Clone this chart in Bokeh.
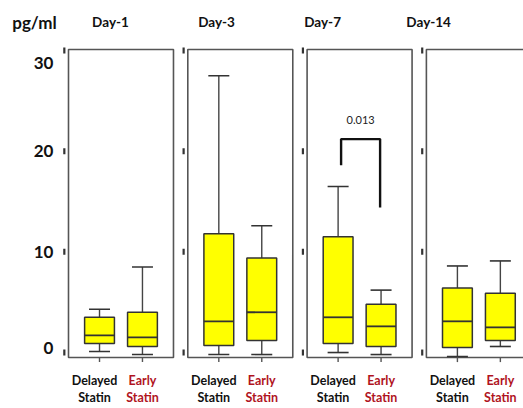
import numpy as np
from bokeh.plotting import figure
from bokeh.models import Range1d
from bokeh.core.properties import value
from bokeh.embed import file_html
from bokeh.resources import INLINE

# ---- data -------------------------------------------------------------
days = ["Day-1", "Day-3", "Day-7", "Day-14"]
group_line1 = ["Delayed", "Early"]
group_line2 = ["Statin", "Statin"]
group_colors = ["#111111", "#B0141E"]

delayed_low = [0.1, -0.2, 0.0, -0.4]
delayed_q1 = [0.9, 0.7, 0.9, 0.5]
delayed_med = [1.7, 3.1, 3.5, 3.1]
delayed_q3 = [3.5, 11.8, 11.5, 6.4]
delayed_high = [4.3, 27.5, 16.5, 8.6]

early_low = [-0.2, -0.2, -0.2, 0.6]
early_q1 = [0.6, 1.2, 0.6, 1.2]
early_med = [1.5, 4.0, 2.6, 2.5]
early_q3 = [4.0, 9.4, 4.8, 5.9]
early_high = [8.5, 12.6, 6.2, 9.1]

y_ticks = [0, 10, 20, 30]
y_tick_labels = ["0", "10", "20", "30"]
unit_label = "pg/ml"

p_value_text = "0.013"
p_value_bracket = [21.2, 18.6, 14.4]   # top, left leg end, right leg end

# ---- layout helpers (positions / styles) --------------------------------
panel_w = 0.88
offsets = [0.26, 0.62]
box_w = 0.25
cap_w = 0.176
y_bottom, y_top = -0.5, 30.1
FONT = value("Lato")

p = figure(width=523, height=408, output_backend="svg", toolbar_location=None,
           x_range=Range1d(-0.570, 3.814), y_range=Range1d(-5.56, 34.97),
           min_border=0, min_border_left=0, min_border_right=0,
           min_border_top=0, min_border_bottom=0)
p.axis.visible = False
p.grid.visible = False
p.outline_line_color = None
p.background_fill_color = "white"
p.border_fill_color = "white"

n = len(days)
idx = np.arange(n)

# panel frames
p.quad(left=idx, right=idx + panel_w, bottom=[y_bottom] * n, top=[y_top] * n,
       fill_alpha=0, line_color="#555555", line_width=1.6)

# boxes
series = [
    (delayed_low, delayed_q1, delayed_med, delayed_q3, delayed_high),
    (early_low, early_q1, early_med, early_q3, early_high),
]
for g, (lo, q1, med, q3, hi) in enumerate(series):
    xs = idx + offsets[g]
    p.segment(x0=xs, y0=q3, x1=xs, y1=hi, line_color="#444444", line_width=1.4)
    p.segment(x0=xs, y0=q1, x1=xs, y1=lo, line_color="#444444", line_width=1.4)
    p.segment(x0=xs - cap_w / 2, y0=hi, x1=xs + cap_w / 2, y1=hi, line_color="#333333", line_width=1.6)
    p.segment(x0=xs - cap_w / 2, y0=lo, x1=xs + cap_w / 2, y1=lo, line_color="#333333", line_width=1.6)
    p.vbar(x=xs, width=box_w, bottom=q1, top=q3, fill_color="#FFFF00",
           line_color="#333333", line_width=1.5)
    p.segment(x0=xs - box_w / 2, y0=med, x1=xs + box_w / 2, y1=med, line_color="#333333", line_width=1.8)
    p.segment(x0=xs, y0=[y_bottom] * n, x1=xs, y1=[y_bottom - 0.45] * n, line_color="#555555", line_width=1.4)
    for line_txt, yoff in ((group_line1[g], 23), (group_line2[g], 40)):
        p.text(x=xs, y=[y_bottom] * n, text=[line_txt] * n, x_offset=-5 if g == 0 else 0,
               y_offset=yoff, text_align="center", text_baseline="middle",
               text_font=FONT, text_font_size="12.5px", text_font_style="bold",
               text_color=group_colors[g])

# small y tick marks at left of each panel
for i in range(n):
    p.scatter(x=[i - 0.035] * len(y_ticks), y=y_ticks, marker="dash", angle=np.pi / 2,
              size=6, line_color="#333333", line_width=2.2)

# y tick labels
label_offsets = [-5, 0, 0, 12]
for t, lab, off in zip(y_ticks, y_tick_labels, label_offsets):
    p.text(x=[-0.126], y=[t], text=[lab], y_offset=off, text_align="right", text_baseline="middle",
           text_font=FONT, text_font_size="17px", text_font_style="bold",
           text_color="#111111")

# unit label
p.text(x=[-0.285], y=[y_top], text=[unit_label], y_offset=-27, text_align="center", text_baseline="middle",
       text_font=FONT, text_font_size="17px", text_font_style="bold", text_color="#111111")

# day titles
p.text(x=0.352 + idx * 0.889, y=[y_top] * n, text=days, y_offset=-28, text_align="center",
       text_baseline="middle", text_font=FONT, text_font_size="13.5px",
       text_font_style="bold", text_color="#111111")

# p-value bracket on Day-7
bx0 = 2 + offsets[0] + 0.025
bx1 = 2 + offsets[1] - 0.008
p.multi_line(xs=[[bx0, bx0, bx1, bx1]],
             ys=[[p_value_bracket[1], p_value_bracket[0], p_value_bracket[0], p_value_bracket[2]]],
             line_color="#111111", line_width=2.4)
p.text(x=[(bx0 + bx1) / 2], y=[p_value_bracket[0]], text=[p_value_text], y_offset=-19,
       text_align="center", text_baseline="middle", text_font=FONT,
       text_font_size="11px", text_color="#222222")

open("out.html", "w").write(file_html(p, INLINE))
